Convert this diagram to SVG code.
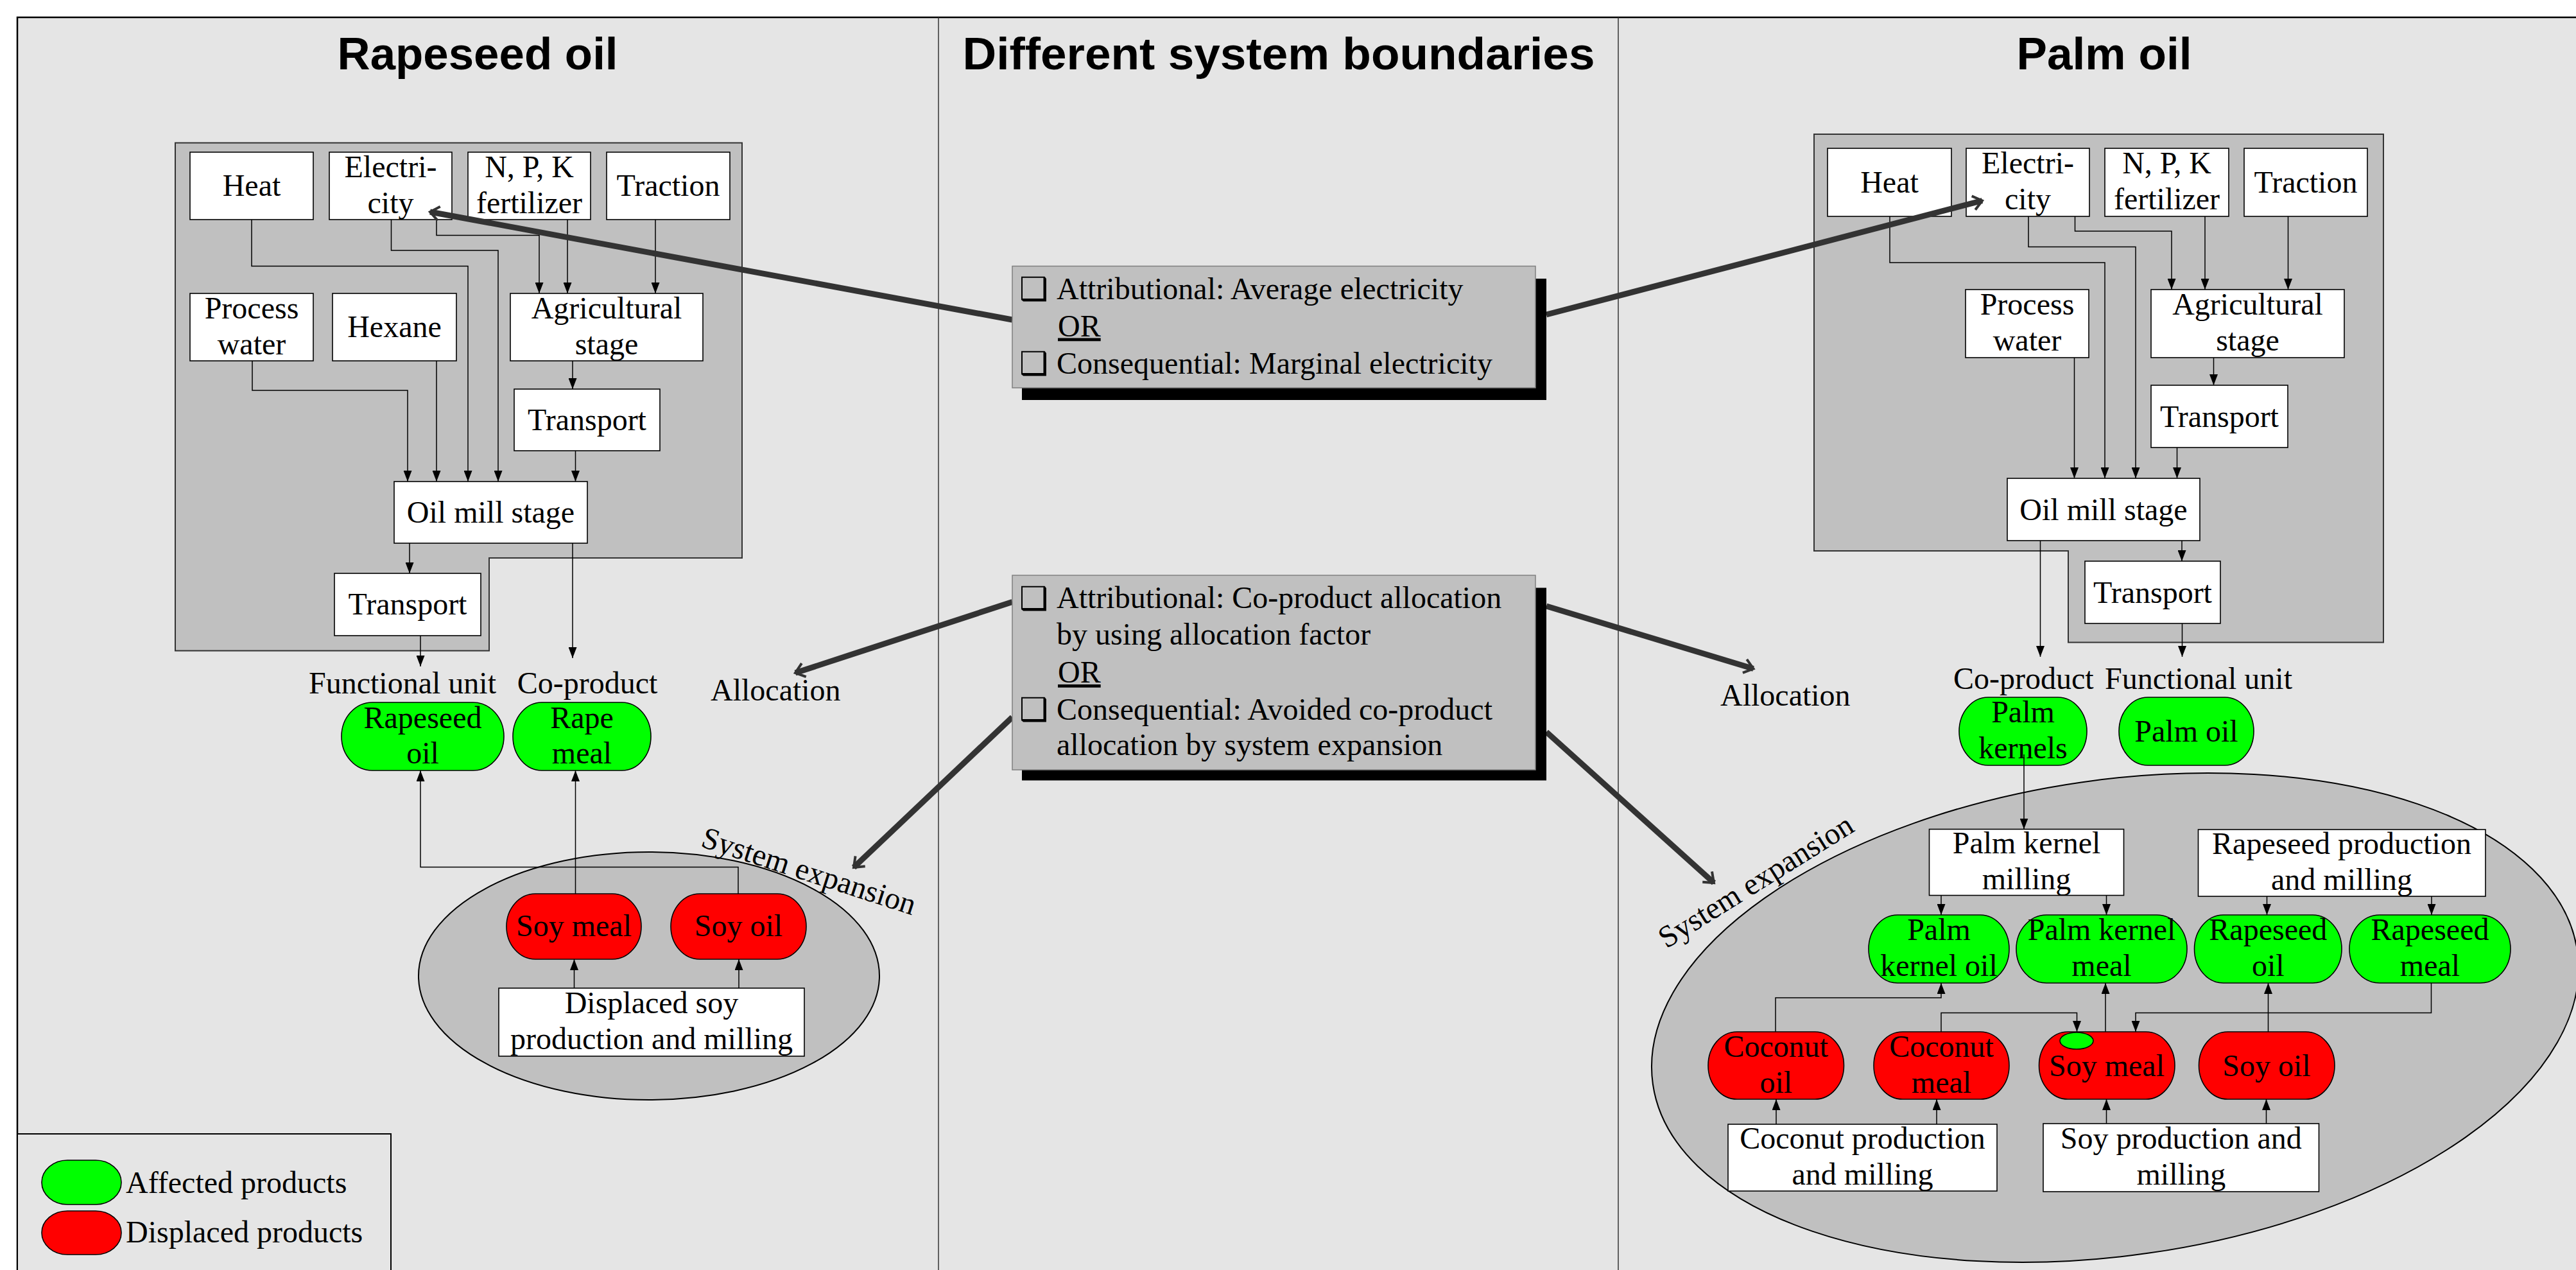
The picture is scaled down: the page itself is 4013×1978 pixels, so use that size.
<svg xmlns="http://www.w3.org/2000/svg" width="4013" height="1978" viewBox="0 0 4013 1978">
<defs>
<style>
.bg{fill:#e5e5e5;stroke:#000;stroke-width:2.5}
.sep{stroke:#333;stroke-width:1.5}
.reg{fill:#c0c0c0;stroke:#333;stroke-width:2}
.box{fill:#fff;stroke:#000;stroke-width:1.6}
.g{fill:#00ff00;stroke:#000;stroke-width:1.6}
.r{fill:#ff0000;stroke:#000;stroke-width:1.6}
.t{font-family:"Liberation Serif","Times New Roman",serif;font-size:48px;fill:#000}
.c{text-anchor:middle}
.title{font-family:"Liberation Sans",Arial,sans-serif;font-weight:bold;font-size:70px;text-anchor:middle;fill:#000}
.ln{fill:none;stroke:#000;stroke-width:1.5;marker-end:url(#ah)}
.thick{fill:none;stroke:#333;stroke-width:9;marker-end:url(#big)}
.mid{fill:#c0c0c0;stroke:#808080;stroke-width:1.5}
.sh{fill:#000}
.bul{font-family:"DejaVu Sans",sans-serif;font-size:50px;fill:#000}
</style>
<marker id="ah" markerUnits="userSpaceOnUse" viewBox="0 0 17 13" markerWidth="17" markerHeight="13" refX="17" refY="6.5" orient="auto">
<path d="M0,0 L17,6.5 L0,13 z" fill="#000"/>
</marker>
<marker id="big" markerUnits="userSpaceOnUse" viewBox="-4 -14 24 28" markerWidth="24" markerHeight="28" refX="14" refY="0" orient="auto">
<path d="M0,-11 L14,0 L0,11" fill="none" stroke="#333" stroke-width="4"/>
</marker>
</defs>
<rect width="4013" height="1978" fill="#fff"/>
<rect class="bg" x="27" y="27" width="4100" height="2100"/>
<line class="sep" x1="1462" y1="27" x2="1462" y2="1978"/>
<line class="sep" x1="2521" y1="27" x2="2521" y2="1978"/>
<text class="title" x="744" y="108" textLength="437" lengthAdjust="spacingAndGlyphs">Rapeseed oil</text>
<text class="title" x="1992" y="108" textLength="985" lengthAdjust="spacingAndGlyphs">Different system boundaries</text>
<text class="title" x="3278" y="108" textLength="273" lengthAdjust="spacingAndGlyphs">Palm oil</text>

<path class="reg" d="M273,222.5 H1156 V869 H762 V1013.5 H273 Z"/>
<path class="reg" d="M2826,209 H3713 V1000.5 H3222 V858 H2826 Z"/>
<ellipse cx="1011" cy="1520" rx="359" ry="193" fill="#c0c0c0" stroke="#000" stroke-width="2"/>
<ellipse cx="3295" cy="1585" rx="727.5" ry="370.4" transform="rotate(-8.2 3295 1585)" fill="#c0c0c0" stroke="#000" stroke-width="2"/>
<text class="t" transform="rotate(18 1090 1318)" x="1090" y="1318">System expansion</text>
<text class="t" transform="rotate(-32 2596 1478)" x="2596" y="1478">System expansion</text>

<g id="legend">
<rect x="27" y="1766" width="582" height="300" fill="#e5e5e5" stroke="#000" stroke-width="2"/>
<rect class="g" x="65" y="1807" width="124" height="69" rx="40" ry="34.5"/>
<rect class="r" x="65" y="1886" width="124" height="68" rx="40" ry="34"/>
<text class="t" x="196" y="1858">Affected products</text>
<text class="t" x="196" y="1935">Displaced products</text>
</g>

<!-- Rapeseed oil nodes -->
<g id="l-heat"><rect class="box" x="296" y="237" width="192" height="105"/><text class="t c" x="392" y="305">Heat</text></g>
<g id="l-elec"><rect class="box" x="513" y="237" width="191" height="105"/><text class="t c" x="608.5" y="275.5">Electri-</text><text class="t c" x="608.5" y="331.5">city</text></g>
<g id="l-npk"><rect class="box" x="729" y="237" width="191" height="105"/><text class="t c" x="824.5" y="275.5">N, P, K</text><text class="t c" x="824.5" y="331.5">fertilizer</text></g>
<g id="l-traction"><rect class="box" x="945" y="237" width="192" height="105"/><text class="t c" x="1041" y="305">Traction</text></g>
<g id="l-water"><rect class="box" x="296" y="457" width="192" height="105"/><text class="t c" x="392" y="495.5">Process</text><text class="t c" x="392" y="551.5">water</text></g>
<g id="l-hexane"><rect class="box" x="518" y="457" width="193" height="105"/><text class="t c" x="614.5" y="525">Hexane</text></g>
<g id="l-agri"><rect class="box" x="795" y="457" width="300" height="105"/><text class="t c" x="945" y="495.5">Agricultural</text><text class="t c" x="945" y="551.5">stage</text></g>
<g id="l-transport1"><rect class="box" x="801" y="606" width="227" height="96"/><text class="t c" x="914.5" y="670">Transport</text></g>
<g id="l-oilmill"><rect class="box" x="614" y="750" width="301" height="96"/><text class="t c" x="764.5" y="814">Oil mill stage</text></g>
<g id="l-transport2"><rect class="box" x="521" y="893" width="228" height="97"/><text class="t c" x="635" y="957">Transport</text></g>
<g id="l-labels"><text class="t c" x="627" y="1080">Functional unit</text><text class="t c" x="915" y="1080">Co-product</text><text class="t" x="1107" y="1091">Allocation</text></g>
<g id="l-rapeoil"><rect class="g" x="532" y="1094" width="253" height="106" rx="48" ry="53"/><text class="t c" x="658.5" y="1133.5">Rapeseed</text><text class="t c" x="658.5" y="1189">oil</text></g>
<g id="l-rapemeal"><rect class="g" x="799" y="1094" width="215" height="106" rx="45" ry="53"/><text class="t c" x="906.5" y="1133.5">Rape</text><text class="t c" x="906.5" y="1189">meal</text></g>
<g id="l-soymeal"><rect class="r" x="789" y="1392" width="210" height="102" rx="45" ry="51"/><text class="t c" x="894" y="1458">Soy meal</text></g>
<g id="l-soyoil"><rect class="r" x="1045" y="1392" width="211" height="102" rx="45" ry="51"/><text class="t c" x="1150.5" y="1458">Soy oil</text></g>
<g id="l-soyprod"><rect class="box" x="777" y="1539" width="476" height="106"/><text class="t c" x="1015" y="1578">Displaced soy</text><text class="t c" x="1015" y="1634">production and milling</text></g>

<!-- Palm oil nodes -->
<g id="p-heat"><rect class="box" x="2847" y="231" width="193" height="106"/><text class="t c" x="2943.5" y="300">Heat</text></g>
<g id="p-elec"><rect class="box" x="3063" y="231" width="192" height="106"/><text class="t c" x="3159" y="270">Electri-</text><text class="t c" x="3159" y="326">city</text></g>
<g id="p-npk"><rect class="box" x="3279" y="231" width="193" height="106"/><text class="t c" x="3375.5" y="270">N, P, K</text><text class="t c" x="3375.5" y="326">fertilizer</text></g>
<g id="p-traction"><rect class="box" x="3496" y="231" width="192" height="106"/><text class="t c" x="3592" y="300">Traction</text></g>
<g id="p-water"><rect class="box" x="3062" y="451" width="192" height="106"/><text class="t c" x="3158" y="490">Process</text><text class="t c" x="3158" y="546">water</text></g>
<g id="p-agri"><rect class="box" x="3351" y="451" width="301" height="106"/><text class="t c" x="3501.5" y="490">Agricultural</text><text class="t c" x="3501.5" y="546">stage</text></g>
<g id="p-transport1"><rect class="box" x="3351" y="600" width="213" height="97"/><text class="t c" x="3457.5" y="664.5">Transport</text></g>
<g id="p-oilmill"><rect class="box" x="3127" y="745" width="300" height="97"/><text class="t c" x="3277" y="809.5">Oil mill stage</text></g>
<g id="p-transport2"><rect class="box" x="3248" y="874" width="211" height="97"/><text class="t c" x="3353.5" y="938.5">Transport</text></g>
<g id="p-labels"><text class="t" x="3043" y="1073">Co-product</text><text class="t" x="3279" y="1073">Functional unit</text><text class="t" x="2680" y="1099">Allocation</text></g>
<g id="p-kernels"><rect class="g" x="3052" y="1086" width="199" height="106" rx="45" ry="53"/><text class="t c" x="3151.5" y="1125">Palm</text><text class="t c" x="3151.5" y="1181">kernels</text></g>
<g id="p-palmoil"><rect class="g" x="3301" y="1086" width="210" height="106" rx="45" ry="53"/><text class="t c" x="3406" y="1155">Palm oil</text></g>
<g id="p-pkmill"><rect class="box" x="3005.5" y="1291.5" width="303" height="103"/><text class="t c" x="3157" y="1329">Palm kernel</text><text class="t c" x="3157" y="1385">milling</text></g>
<g id="p-rapeprod"><rect class="box" x="3424.5" y="1292" width="447.5" height="104"/><text class="t c" x="3648" y="1330">Rapeseed production</text><text class="t c" x="3648" y="1386">and milling</text></g>
<g id="p-pkoil"><rect class="g" x="2911" y="1425" width="219" height="106" rx="45" ry="53"/><text class="t c" x="3020.5" y="1464">Palm</text><text class="t c" x="3020.5" y="1520">kernel oil</text></g>
<g id="p-pkmeal"><rect class="g" x="3141" y="1425" width="266" height="106" rx="47" ry="53"/><text class="t c" x="3274" y="1464">Palm kernel</text><text class="t c" x="3274" y="1520">meal</text></g>
<g id="p-rapeoil"><rect class="g" x="3418.5" y="1425" width="229.5" height="106" rx="45" ry="53"/><text class="t c" x="3533.3" y="1464">Rapeseed</text><text class="t c" x="3533.3" y="1520">oil</text></g>
<g id="p-rapemeal"><rect class="g" x="3660" y="1425" width="251" height="106" rx="47" ry="53"/><text class="t c" x="3785.5" y="1464">Rapeseed</text><text class="t c" x="3785.5" y="1520">meal</text></g>
<g id="p-cocooil"><rect class="r" x="2661" y="1607" width="211.5" height="105" rx="45" ry="52.5"/><text class="t c" x="2766.75" y="1645.5">Coconut</text><text class="t c" x="2766.75" y="1701.5">oil</text></g>
<g id="p-cocomeal"><rect class="r" x="2919" y="1607" width="211" height="105" rx="45" ry="52.5"/><text class="t c" x="3024.5" y="1645.5">Coconut</text><text class="t c" x="3024.5" y="1701.5">meal</text></g>
<g id="p-soymeal"><rect class="r" x="3176.5" y="1607" width="211.5" height="105" rx="45" ry="52.5"/><ellipse class="g" cx="3235" cy="1621" rx="26" ry="13"/><text class="t c" x="3282" y="1675.5">Soy meal</text></g>
<g id="p-soyoil"><rect class="r" x="3425.5" y="1607" width="211.5" height="105" rx="45" ry="52.5"/><text class="t c" x="3531" y="1675.5">Soy oil</text></g>
<g id="p-cocoprod"><rect class="box" x="2692" y="1751" width="419" height="104"/><text class="t c" x="2901.5" y="1789">Coconut production</text><text class="t c" x="2901.5" y="1845">and milling</text></g>
<g id="p-soyprod"><rect class="box" x="3183" y="1750" width="429.5" height="106"/><text class="t c" x="3397.8" y="1789">Soy production and</text><text class="t c" x="3397.8" y="1845">milling</text></g>

<g id="connectors">
<path class="ln" d="M392,342 V414.5 H729 V750"/>
<path class="ln" d="M609.5,342 V390 H776 V750"/>
<path class="ln" d="M680,342 V366.5 H840 V457"/>
<path class="ln" d="M884,342 V457"/>
<path class="ln" d="M1021,342 V457"/>
<path class="ln" d="M393,562 V608 H635 V750"/>
<path class="ln" d="M680,562 V750"/>
<path class="ln" d="M892,562 V606"/>
<path class="ln" d="M896.5,702 V750"/>
<path class="ln" d="M638,846 V893"/>
<path class="ln" d="M892,846 V1025"/>
<path class="ln" d="M655,990 V1038"/>
<path class="ln" d="M896.5,1392 V1200"/>
<path class="ln" d="M1150,1392 V1350.5 H655 V1200"/>
<path class="ln" d="M894.5,1539 V1494"/>
<path class="ln" d="M1151,1539 V1494"/>

<path class="ln" d="M2944,337 V409 H3279 V745"/>
<path class="ln" d="M3160,337 V384.5 H3327 V745"/>
<path class="ln" d="M3232.5,337 V360 H3383 V451"/>
<path class="ln" d="M3435,337 V451"/>
<path class="ln" d="M3564.5,337 V451"/>
<path class="ln" d="M3231.5,557 V745"/>
<path class="ln" d="M3448.5,557 V600"/>
<path class="ln" d="M3391.5,697 V745"/>
<path class="ln" d="M3399,842 V874"/>
<path class="ln" d="M3178.5,842 V1023"/>
<path class="ln" d="M3399.5,971 V1023"/>
<path class="ln" d="M3153,1175 V1291.5"/>
<path class="ln" d="M3024,1394.5 V1425"/>
<path class="ln" d="M3281.5,1394.5 V1425"/>
<path class="ln" d="M3531.5,1396 V1425"/>
<path class="ln" d="M3788,1396 V1425"/>
<path class="ln" d="M2766,1607 V1554 H3024 V1531"/>
<path class="ln" d="M3024,1607 V1577.5 H3235.5 V1607"/>
<path class="ln" d="M3787.5,1531 V1577.5 H3327 V1607"/>
<path class="ln" d="M3280,1607 V1531"/>
<path class="ln" d="M3533.5,1607 V1531"/>
<path class="ln" d="M2767,1751 V1712"/>
<path class="ln" d="M3017,1751 V1712"/>
<path class="ln" d="M3281.5,1750 V1712"/>
<path class="ln" d="M3530.5,1750 V1712"/>

<path class="thick" d="M1577,498 L670,330"/>
<path class="thick" d="M2409,490 L3088,312.5"/>
<path class="thick" d="M1577,937.5 L1239,1048"/>
<path class="thick" d="M1577,1117 L1330,1351"/>
<path class="thick" d="M2409,944 L2731.5,1041.5"/>
<path class="thick" d="M2409,1140 L2670,1375"/>
</g>

<g id="electricity-choice">
<rect class="sh" x="1592" y="434" width="817" height="189"/>
<rect class="mid" x="1577" y="414.5" width="815" height="189.5"/>
<text class="bul" x="1588" y="467">❑</text>
<text class="t" x="1646" y="465.5">Attributional: Average electricity</text>
<text class="t" x="1648" y="523.5" text-decoration="underline">OR</text>
<text class="bul" x="1588" y="583">❑</text>
<text class="t" x="1646" y="581.5">Consequential: Marginal electricity</text>
</g>
<g id="allocation-choice">
<rect class="sh" x="1592" y="915.5" width="817" height="300"/>
<rect class="mid" x="1577" y="896" width="815" height="303"/>
<text class="bul" x="1588" y="948.5">❑</text>
<text class="t" x="1646" y="947">Attributional: Co-product allocation</text>
<text class="t" x="1646" y="1004">by using allocation factor</text>
<text class="t" x="1648" y="1063" text-decoration="underline">OR</text>
<text class="bul" x="1588" y="1122">❑</text>
<text class="t" x="1646" y="1120.5">Consequential: Avoided co-product</text>
<text class="t" x="1646" y="1176">allocation by system expansion</text>
</g>
</svg>
